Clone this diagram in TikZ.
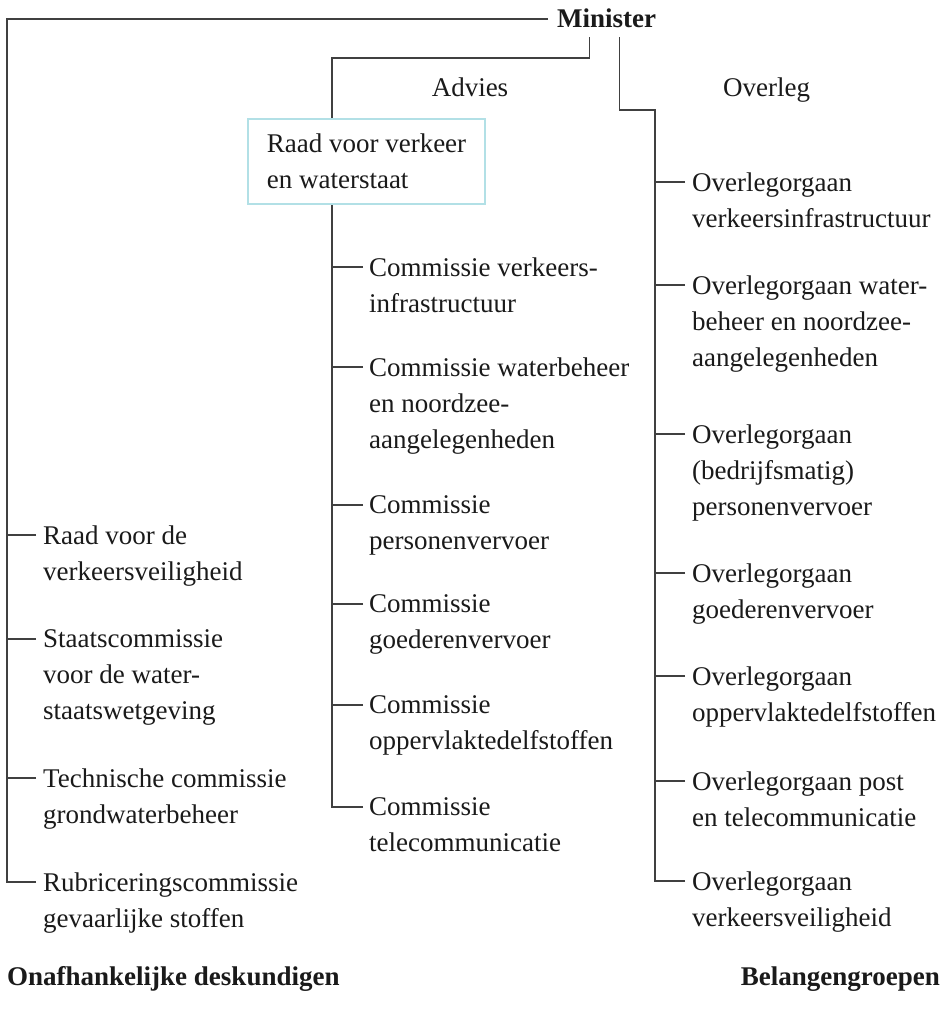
\documentclass[tikz,border=0pt]{standalone}
\usepackage{fontspec}
\setmainfont{Liberation Serif}
\usepackage{xcolor}
\usetikzlibrary{positioning}
\definecolor{linegray}{HTML}{404040}
\definecolor{boxcyan}{HTML}{B2E0E6}
\definecolor{textblack}{HTML}{1A1A1A}

\begin{document}
\begin{tikzpicture}[x=1pt, y=-1pt,
  conn/.style={draw=linegray, line width=1.5pt},
  item/.style={anchor=north west, align=left, inner sep=0pt, text=textblack,
    font=\fontsize{27}{36}\selectfont},
  head/.style={inner sep=0pt, text=textblack, font=\fontsize{27}{36}\selectfont\bfseries},
  raadbox/.style={draw=boxcyan, line width=2pt, anchor=north west, align=left,
    minimum width=237pt, minimum height=85pt, inner xsep=18pt, text=textblack,
    font=\fontsize{27}{36}\selectfont}]
  \fill[white] (0,0) rectangle (947,1011);
  \useasboundingbox (0,0) rectangle (947,1011);

  % Top
  \node[head, anchor=base west, inner xsep=9pt, inner ysep=9pt] (minister) at (548,28) {Minister};
  \node[item, anchor=base] (advies) at (470,97) {Advies};
  \node[item, anchor=base west] (overleg) at (723,97) {Overleg};
  \node[raadbox] (raad) at (247,118) {Raad voor verkeer\\en waterstaat};

  % Left column: independent experts
  \foreach \y/\nm/\txt in {535/l1/{Raad voor de\\verkeersveiligheid},
      639/l2/{Staatscommissie\\voor de water-\\staatswetgeving},
      778/l3/{Technische commissie\\grondwaterbeheer},
      882/l4/{Rubriceringscommissie\\gevaarlijke stoffen}}{
    \node[item] (\nm) at (43,\y-9.5) {\txt};
    \draw[conn] (\nm.north west) ++(-7pt,-9.5pt) -- ++(-29pt,0);
  }

  % Middle column: advisory committees
  \foreach \y/\nm/\txt in {267/c1/{Commissie verkeers-\\infrastructuur},
      367/c2/{Commissie waterbeheer\\en noordzee-\\aangelegenheden},
      505/c3/{Commissie\\personenvervoer},
      604/c4/{Commissie\\goederenvervoer},
      705/c5/{Commissie\\oppervlaktedelfstoffen},
      807/c6/{Commissie\\telecommunicatie}}{
    \node[item] (\nm) at (369,\y-9.5) {\txt};
    \draw[conn] (\nm.north west) ++(-6pt,-9.5pt) -- ++(-31pt,0);
  }

  % Right column: consultation bodies
  \foreach \y/\nm/\txt in {182/o1/{Overlegorgaan\\verkeersinfrastructuur},
      285/o2/{Overlegorgaan water-\\beheer en noordzee-\\aangelegenheden},
      434/o3/{Overlegorgaan\\(bedrijfsmatig)\\personenvervoer},
      573/o4/{Overlegorgaan\\goederenvervoer},
      676/o5/{Overlegorgaan\\oppervlaktedelfstoffen},
      781/o6/{Overlegorgaan post\\en telecommunicatie},
      881/o7/{Overlegorgaan\\verkeersveiligheid}}{
    \node[item] (\nm) at (692,\y-9.5) {\txt};
    \draw[conn] (\nm.north west) ++(-7pt,-9.5pt) -- ++(-30pt,0);
  }

  % Spines
  \coordinate (lft) at (7,0);
  \coordinate (adv) at (332,58);
  \coordinate (ovl) at (655,110);
  \draw[conn] (minister.west) -- (minister.west -| lft) |- ([shift={(-7pt,-9.5pt)}]l4.north west);
  \draw[conn] ([xshift=-17pt]minister.south) |- (adv) -- (adv |- raad.north);
  \draw[conn] (adv |- raad.south) |- ([shift={(-6pt,-9.5pt)}]c6.north west);
  \draw[conn] ([xshift=13pt]minister.south) |- (ovl) |- ([shift={(-7pt,-9.5pt)}]o7.north west);

  % Group titles
  \node[head, anchor=base west] (onafh) at (7,985) {Onafhankelijke deskundigen};
  \node[head, anchor=base east] (belang) at (940,985) {Belangengroepen};
\end{tikzpicture}
\end{document}
